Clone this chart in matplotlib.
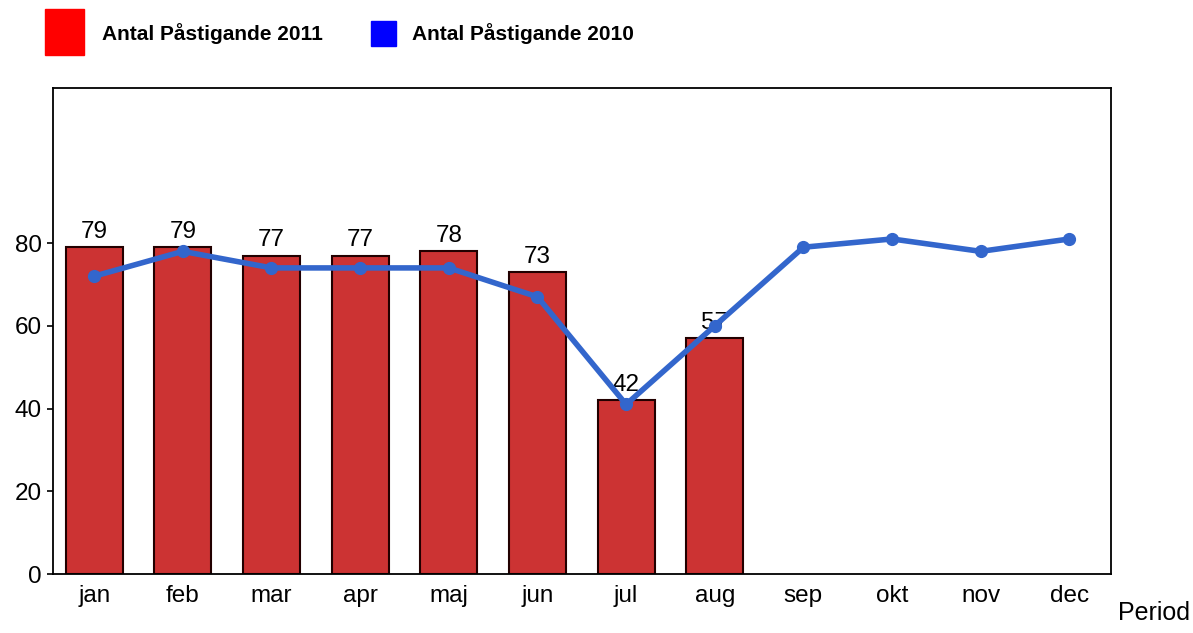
import matplotlib.pyplot as plt
from matplotlib.patches import Rectangle

plt.rcParams['font.family'] = ['Liberation Sans', 'DejaVu Sans']

months = ['jan', 'feb', 'mar', 'apr', 'maj', 'jun', 'jul', 'aug',
          'sep', 'okt', 'nov', 'dec']
antal_2011 = [79, 79, 77, 77, 78, 73, 42, 57]
antal_2010 = [72, 78, 74, 74, 74, 67, 41, 60, 79, 81, 78, 81]
y_ticks = [0, 20, 40, 60, 80]

fig = plt.figure(figsize=(11.93, 6.33), dpi=100)
ax = fig.add_axes([0.0444, 0.0932, 0.8869, 0.7678])

x_bar = list(range(len(antal_2011)))
x_line = list(range(len(antal_2010)))

bars = ax.bar(x_bar, antal_2011, width=0.645, color='#cc3333',
              edgecolor='#220000', linewidth=1.5, zorder=2)
for xi, v in zip(x_bar, antal_2011):
    ax.text(xi, v + 1.0, str(v), ha='center', va='bottom', fontsize=17.5, zorder=3)

ax.plot(x_line, antal_2010, color='#3366cc', linewidth=4, marker='o',
        markersize=8.5, zorder=4)

ax.set_xlim(-0.465, 11.47)
ax.set_ylim(0, 117.5)
ax.set_xticks(x_line)
ax.set_xticklabels(months, fontsize=17.5)
ax.set_yticks(y_ticks)
ax.set_yticklabels([str(t) for t in y_ticks], fontsize=17.5)
ax.tick_params(axis='x', length=0, pad=8)
ax.tick_params(axis='y', length=4, width=1.2, pad=4)
for s in ax.spines.values():
    s.set_linewidth(1.3)

fig.text(0.9975, 0.012, 'Period', ha='right', va='bottom', fontsize=18)

# legend at the top
fig.patches.append(Rectangle((45 / 1193, 1 - 55 / 633), 39 / 1193, 46 / 633,
                             transform=fig.transFigure, color='#ff0000'))
fig.text(102 / 1193, 1 - 34 / 633, 'Antal Påstigande 2011', fontsize=15,
         fontweight='bold', va='center')
fig.patches.append(Rectangle((371 / 1193, 1 - 46 / 633), 25 / 1193, 25 / 633,
                             transform=fig.transFigure, color='#0000ff'))
fig.text(412 / 1193, 1 - 34 / 633, 'Antal Påstigande 2010', fontsize=15,
         fontweight='bold', va='center')

fig.savefig('out.png', dpi=100)
